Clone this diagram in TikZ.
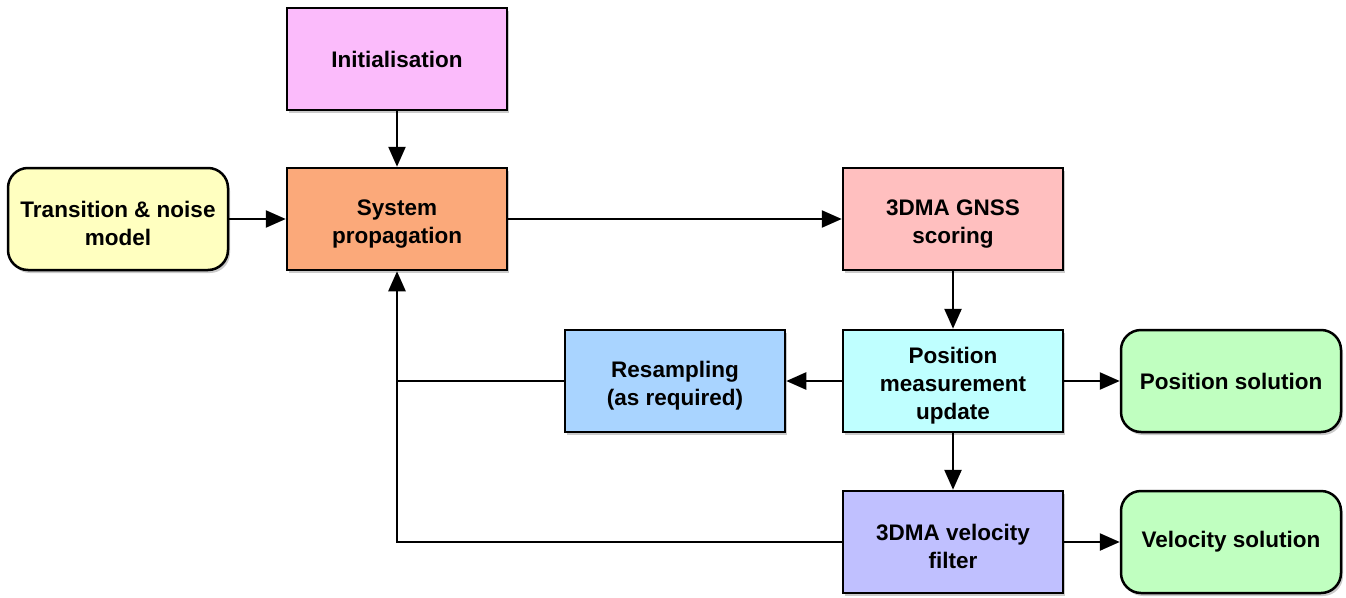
\documentclass[tikz,border=0pt]{standalone}
\usepackage{fontspec}
\setmainfont{Liberation Sans}
\usetikzlibrary{arrows.meta,shadows}
\definecolor{cinit}{HTML}{FBBBFB}
\definecolor{csys}{HTML}{FBA97A}
\definecolor{ctrans}{HTML}{FFFFC0}
\definecolor{cgnss}{HTML}{FFBFBF}
\definecolor{cpos}{HTML}{BFFFFF}
\definecolor{cres}{HTML}{A9D4FF}
\definecolor{csol}{HTML}{C0FFC0}
\definecolor{cvel}{HTML}{C0C0FF}
\newcommand\mystrut{\rule{0pt}{25pt}}
\begin{document}
\begin{tikzpicture}[x=1pt,y=-1pt,
  blk/.style={draw=black, line width=2.5pt, minimum width=220pt, minimum height=102pt,
    align=center, font=\fontsize{22.5}{28}\selectfont\bfseries, inner sep=0pt,
    drop shadow={shadow xshift=2pt, shadow yshift=-3pt, opacity=0.35, fill=black!60}},
  rblk/.style={blk, rounded corners=20pt},
  conn/.style={line width=2.5pt, -{Triangle[length=20pt,width=17pt]}},
  line/.style={line width=2.5pt}]
\useasboundingbox (0,0) rectangle (1346,597);
\node[blk, fill=cinit] (init) at (397,59) {Initialisation};
\node[rblk, fill=ctrans] (trans) at (118,219) {\mystrut Transition \& noise\\model};
\node[blk, fill=csys] (sys) at (397,219) {\mystrut System\\propagation};
\node[blk, fill=cgnss] (gnss) at (953,219) {\mystrut 3DMA GNSS\\scoring};
\node[blk, fill=cpos] (pos) at (953,381) {\mystrut Position\\measurement\\update};
\node[blk, fill=cres] (res) at (675,381) {\mystrut Resampling\\(as required)};
\node[rblk, fill=csol] (possol) at (1231,381) {Position solution};
\node[blk, fill=cvel] (vel) at (953,542) {\mystrut 3DMA velocity\\filter};
\node[rblk, fill=csol] (velsol) at (1231,542) {Velocity solution};
\coordinate (c1) at (397,381);
\coordinate (c2) at (397,542);
\draw[conn] (init) -- (sys);
\draw[conn] (trans) -- (sys);
\draw[conn] (sys) -- (gnss);
\draw[conn] (gnss) -- (pos);
\draw[conn] (pos) -- (res);
\draw[conn] (pos) -- (possol);
\draw[conn] (pos) -- (vel);
\draw[conn] (vel) -- (velsol);
\draw[line] (res.west) -- (c1);
\draw[conn] (vel.west) -- (c2) -- (sys.south);
\end{tikzpicture}
\end{document}
